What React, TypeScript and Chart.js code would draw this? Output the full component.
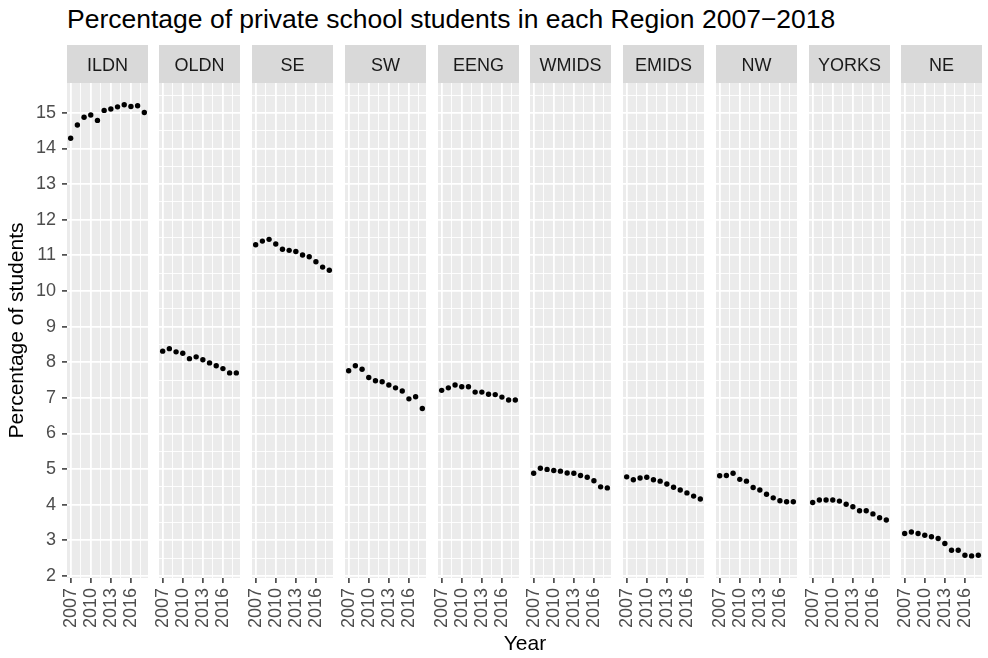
import { useEffect, useRef } from "react";
import { Chart, registerables } from "chart.js";

Chart.register(...registerables);

const FONT = "'Liberation Sans', Arial, Helvetica, sans-serif";
Chart.defaults.font.family = FONT;

// ---- data -------------------------------------------------------------
const years = [2007, 2008, 2009, 2010, 2011, 2012, 2013, 2014, 2015, 2016, 2017, 2018];
const regions = ["ILDN", "OLDN", "SE", "SW", "EENG", "WMIDS", "EMIDS", "NW", "YORKS", "NE"];

const ILDN = [14.29, 14.66, 14.88, 14.94, 14.79, 15.07, 15.11, 15.17, 15.23, 15.18, 15.2, 15.01];
const OLDN = [8.31, 8.38, 8.29, 8.25, 8.1, 8.15, 8.07, 7.98, 7.9, 7.82, 7.7, 7.7];
const SE = [11.3, 11.4, 11.45, 11.32, 11.17, 11.14, 11.11, 11.01, 10.96, 10.82, 10.67, 10.58];
const SW = [7.76, 7.9, 7.8, 7.57, 7.48, 7.45, 7.36, 7.28, 7.19, 6.97, 7.03, 6.7];
const EENG = [7.21, 7.28, 7.36, 7.31, 7.31, 7.16, 7.16, 7.1, 7.09, 7.02, 6.94, 6.94];
const WMIDS = [4.88, 5.02, 4.99, 4.96, 4.94, 4.89, 4.88, 4.82, 4.77, 4.67, 4.5, 4.47];
const EMIDS = [4.78, 4.7, 4.75, 4.77, 4.7, 4.66, 4.58, 4.49, 4.41, 4.33, 4.24, 4.16];
const NW = [4.81, 4.82, 4.88, 4.71, 4.66, 4.48, 4.41, 4.29, 4.19, 4.11, 4.08, 4.08];
const YORKS = [4.06, 4.13, 4.13, 4.13, 4.1, 4.01, 3.94, 3.83, 3.83, 3.74, 3.63, 3.57];
const NE = [3.19, 3.23, 3.19, 3.14, 3.1, 3.05, 2.91, 2.72, 2.72, 2.58, 2.56, 2.58];

const seriesByRegion = [ILDN, OLDN, SE, SW, EENG, WMIDS, EMIDS, NW, YORKS, NE];

const yearBreaks = [2007, 2010, 2013, 2016];
const yearMinorBreaks = [2008.5, 2011.5, 2014.5, 2017.5];
const pctBreaks = [2, 3, 4, 5, 6, 7, 8, 9, 10, 11, 12, 13, 14, 15];
const pctMinorBreaks = [2.5, 3.5, 4.5, 5.5, 6.5, 7.5, 8.5, 9.5, 10.5, 11.5, 12.5, 13.5, 14.5, 15.5];

const xRange = [2006.45, 2018.55];
const yRange = [1.94, 15.84];

// ---- layout -----------------------------------------------------------
const PANEL_X0 = 66.5;
const PANEL_PITCH = 92.75;
const PANEL_W = 81;
const AXIS_W = 67;
const SIDE = 12;
const STRIP_H = 38;
const CANVAS_TOP = 45;
const PLOT_H = 495;
const XAXIS_H = 62;
const CANVAS_H = STRIP_H + PLOT_H + XAXIS_H;

const facetPlugin = {
  id: "facetStrip",
  beforeDraw(chart: any, _args: any, opts: any) {
    const { ctx, chartArea: a } = chart;
    ctx.save();
    ctx.fillStyle = "#EBEBEB";
    ctx.fillRect(a.left, a.top, a.right - a.left, a.bottom - a.top);
    ctx.fillStyle = "#D9D9D9";
    ctx.fillRect(a.left, a.top - STRIP_H, a.right - a.left, STRIP_H);
    ctx.fillStyle = "#1A1A1A";
    ctx.font = `18px ${FONT}`;
    ctx.textAlign = "center";
    ctx.textBaseline = "alphabetic";
    ctx.fillText(opts.label, (a.left + a.right) / 2, a.top - STRIP_H / 2 + 7);
    ctx.restore();
  },
};

const setTicks = (majors: number[], minors: number[]) => (scale: any) => {
  scale.ticks = [...majors, ...minors].sort((p, q) => p - q).map((v) => ({ value: v }));
};

function Panel({ index }: { index: number }) {
  const ref = useRef<HTMLCanvasElement | null>(null);
  const first = index === 0;
  const plotLeft = Math.round(PANEL_X0 + index * PANEL_PITCH);
  const canvasLeft = first ? 0 : plotLeft - SIDE;
  const canvasW = first ? AXIS_W + PANEL_W + SIDE : PANEL_W + 2 * SIDE;

  useEffect(() => {
    if (!ref.current) return;
    const values = seriesByRegion[index];
    const isMajorX = (v: number) => yearBreaks.includes(v);
    const isMajorY = (v: number) => pctBreaks.includes(v);
    const chart = new Chart(ref.current, {
      type: "scatter",
      data: {
        datasets: [
          {
            label: regions[index],
            data: years.map((yr, k) => ({ x: yr, y: values[k] })),
            pointRadius: 2.7,
            pointHoverRadius: 2.7,
            pointBackgroundColor: "#000000",
            pointBorderWidth: 0,
            showLine: false,
          },
        ],
      },
      options: {
        animation: false,
        responsive: false,
        events: [],
        layout: { padding: { left: first ? 0 : SIDE, right: SIDE, top: STRIP_H, bottom: 0 } },
        plugins: {
          legend: { display: false },
          tooltip: { enabled: false },
          facetStrip: { label: regions[index] },
        } as any,
        scales: {
          x: {
            type: "linear",
            min: xRange[0],
            max: xRange[1],
            afterBuildTicks: setTicks(yearBreaks, yearMinorBreaks),
            afterFit: (scale: any) => {
              scale.height = XAXIS_H;
              scale.paddingLeft = 0;
              scale.paddingRight = 0;
            },
            border: { display: false },
            grid: {
              color: "#FFFFFF",
              lineWidth: (c: any) => (c.tick && isMajorX(c.tick.value) ? 1.8 : 0.9),
              tickColor: (c: any) => (c.tick && isMajorX(c.tick.value) ? "#333333" : "rgba(0,0,0,0)"),
              tickLength: 5,
              tickWidth: 1.5,
            },
            ticks: {
              autoSkip: false,
              minRotation: 90,
              maxRotation: 90,
              padding: 5,
              color: "#4D4D4D",
              font: { size: 18, family: FONT },
              callback: (v: any) => (isMajorX(Number(v)) ? String(v) : ""),
            },
          },
          y: {
            type: "linear",
            min: yRange[0],
            max: yRange[1],
            afterBuildTicks: setTicks(pctBreaks, pctMinorBreaks),
            afterFit: (scale: any) => {
              scale.width = first ? AXIS_W : 0;
              scale.paddingTop = 0;
              scale.paddingBottom = 0;
            },
            border: { display: false },
            grid: {
              color: "#FFFFFF",
              lineWidth: (c: any) => (c.tick && isMajorY(c.tick.value) ? 1.8 : 0.9),
              tickColor: (c: any) => (c.tick && isMajorY(c.tick.value) ? "#333333" : "rgba(0,0,0,0)"),
              drawTicks: first,
              tickLength: 5,
              tickWidth: 1.5,
            },
            ticks: {
              display: first,
              padding: 6,
              color: "#4D4D4D",
              font: { size: 18, family: FONT },
              callback: (v: any) => (isMajorY(Number(v)) ? String(v) : ""),
            },
            title: {
              display: first,
              text: "Percentage of students",
              color: "#000000",
              font: { size: 21, family: FONT },
              padding: { top: 5, bottom: 0 },
            },
          },
        },
      },
      plugins: [facetPlugin],
    });
    return () => chart.destroy();
  }, [index, first]);

  return (
    <canvas
      ref={ref}
      width={canvasW}
      height={CANVAS_H}
      style={{
        position: "absolute",
        left: canvasLeft,
        top: CANVAS_TOP,
        width: canvasW,
        height: CANVAS_H,
      }}
    />
  );
}

export default function App() {
  return (
    <div
      style={{
        position: "absolute",
        left: 0,
        top: 0,
        width: 988,
        height: 658,
        overflow: "hidden",
        background: "#FFFFFF",
        fontFamily: FONT,
      }}
    >
      <div
        style={{
          position: "absolute",
          left: 67,
          top: 6,
          fontSize: 26.5,
          lineHeight: "26px",
          color: "#000000",
          whiteSpace: "nowrap",
        }}
      >
        Percentage of private school students in each Region 2007−2018
      </div>
      {regions.map((r, i) => (
        <Panel key={r} index={i} />
      ))}
      <div
        style={{
          position: "absolute",
          left: 425,
          width: 200,
          top: 632,
          textAlign: "center",
          fontSize: 21,
          lineHeight: "21px",
          color: "#000000",
        }}
      >
        Year
      </div>
    </div>
  );
}
